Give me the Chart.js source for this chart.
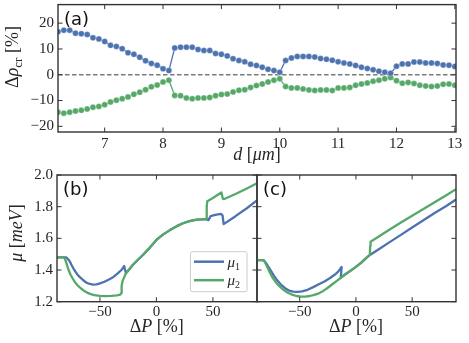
<!DOCTYPE html>
<html><head><meta charset="utf-8">
<script src="https://cdn.jsdelivr.net/npm/chart.js@4"></script>
<style>
html,body{margin:0;padding:0;background:#fff;}
#wrap{position:relative;width:469px;height:343px;overflow:hidden;background:#fff;}
canvas{position:absolute;}
</style></head><body>
<div id="wrap">
<canvas id="cA" width="469" height="170" style="left:0;top:0"></canvas>
<canvas id="cB" width="260" height="183" style="left:0;top:160px"></canvas>
<canvas id="cC" width="219" height="183" style="left:250px;top:160px"></canvas>
</div>
<script>
// ---------- DATA ----------
const dValues = [6.2,6.3,6.4,6.5,6.6,6.7,6.8,6.9,7.0,7.1,7.2,7.3,7.4,7.5,7.6,7.7,7.8,7.9,8.0,8.1,8.2,8.3,8.4,8.5,8.6,8.7,8.8,8.9,9.0,9.1,9.2,9.3,9.4,9.5,9.6,9.7,9.8,9.9,10.0,10.1,10.2,10.3,10.4,10.5,10.6,10.7,10.8,10.9,11.0,11.1,11.2,11.3,11.4,11.5,11.6,11.7,11.8,11.9,12.0,12.1,12.2,12.3,12.4,12.5,12.6,12.7,12.8,12.9,13.0];
const rhoBlue = [16.7,17.3,17.3,16.1,15.9,15.6,14.3,13.9,12.9,11.4,11.0,10.1,8.5,7.9,6.8,5.4,4.4,3.7,2.3,1.6,10.4,10.7,10.7,10.7,9.8,9.4,9.4,8.2,7.9,7.3,6.2,5.5,5.0,4.1,3.6,2.9,2.1,1.6,1.0,5.5,6.5,7.1,7.1,7.1,6.9,6.3,6.0,5.6,5.0,4.6,4.2,3.6,2.9,2.4,1.9,1.4,1.0,0.6,3.3,4.2,4.2,4.9,4.9,4.6,4.6,4.4,3.8,3.7,3.2];
const rhoGreen = [-14.5,-14.9,-14.5,-14.1,-13.8,-13.3,-12.6,-12.3,-11.6,-10.6,-9.9,-9.3,-8.6,-7.6,-6.8,-5.8,-4.7,-4.0,-2.8,-2.1,-8.0,-8.1,-9.0,-9.3,-9.0,-9.0,-8.8,-8.1,-7.7,-7.5,-6.7,-6.0,-5.8,-4.9,-4.2,-3.6,-2.8,-2.1,-1.6,-4.6,-5.1,-5.1,-5.5,-5.9,-6.1,-5.9,-5.9,-6.1,-5.1,-5.1,-4.9,-4.1,-3.6,-3.2,-2.5,-2.1,-1.6,-1.1,-2.3,-3.3,-3.0,-3.4,-4.1,-4.4,-4.6,-4.4,-3.7,-3.6,-4.1];
const dTicks = [7,8,9,10,11,12,13];
const rhoTicks = [-20,-10,0,10,20];

// panel (b)
const bX1 = [-88,-80,-79,-77,-75,-72.7,-70,-68,-65,-62,-59,-56,-53,-50,-46,-42,-38,-34,-31,-28.6,-27,-24,-21,-17,-12,-6,0,6,12,18,24,30,36,40,44,46,48,52,57,58.5,59.5,70,80,89];
const bY1 = [1.48,1.48,1.475,1.458,1.43,1.40,1.372,1.357,1.337,1.32,1.312,1.308,1.31,1.316,1.326,1.34,1.356,1.38,1.40,1.425,1.38,1.405,1.432,1.46,1.495,1.54,1.59,1.625,1.652,1.677,1.697,1.71,1.718,1.72,1.722,1.715,1.74,1.748,1.755,1.745,1.69,1.74,1.79,1.84];
const bX2 = [-88,-82,-81,-79.5,-78,-76,-74,-72,-70,-67,-64,-61,-58,-55,-50,-45,-40,-35,-32,-31,-30.8,-30,-28.5,-27,-24,-21,-17,-12,-6,0,6,12,18,24,30,36,40,44,44.5,45,50,55,57.5,58.8,60,70,80,89];
const bY2 = [1.48,1.48,1.47,1.44,1.405,1.37,1.345,1.322,1.305,1.285,1.268,1.256,1.248,1.242,1.237,1.235,1.237,1.24,1.245,1.255,1.30,1.33,1.355,1.38,1.405,1.432,1.46,1.495,1.54,1.59,1.625,1.652,1.677,1.697,1.71,1.718,1.72,1.722,1.80,1.835,1.855,1.878,1.89,1.85,1.848,1.88,1.915,1.948];

// panel (c)
const cX1 = [-88,-82,-80,-78,-76,-73,-70,-67,-63,-60,-56,-52,-48,-43,-38,-33,-28,-23,-19,-16,-12.7,-13.5,-10,-5,0,5,9,12.4,20,30,40,50,60,70,80,89];
const cY1 = [1.462,1.462,1.445,1.422,1.40,1.365,1.335,1.31,1.285,1.272,1.264,1.262,1.265,1.275,1.292,1.31,1.328,1.35,1.37,1.388,1.42,1.352,1.37,1.395,1.42,1.448,1.475,1.495,1.53,1.576,1.622,1.668,1.714,1.76,1.803,1.845];
const cX2 = [-88,-82.5,-81,-79,-77,-74,-71,-68,-65,-61,-57,-53,-49,-45,-41,-37,-33,-29,-25,-21,-17,-14,-10,-5,0,5,9,12.4,12.6,13,20,30,40,50,60,70,80,89];
const cY2 = [1.462,1.462,1.45,1.42,1.39,1.35,1.32,1.298,1.278,1.258,1.245,1.236,1.232,1.232,1.236,1.243,1.253,1.268,1.288,1.31,1.332,1.348,1.37,1.395,1.42,1.448,1.475,1.495,1.55,1.579,1.61,1.656,1.70,1.742,1.785,1.828,1.87,1.91];

const pTicks = [-50,0,50];
const muTicks = [1.2,1.4,1.6,1.8,2.0];

// ---------- STYLE ----------
const BLUE = '#4c72b0', GREEN = '#55a868';
const SERIF = '"Liberation Serif", serif';
const TICKFONT = {family: SERIF, size: 15};
const TXT = '#262626';

function minusFmt(v){ return v < 0 ? '\u2212' + Math.abs(v) : String(v); }
function setTicks(arr){ return s => { s.ticks = arr.map(v => ({value: v})); }; }
function fitW(w){ return s => { s.width = w; s.paddingTop = s.paddingBottom = s.paddingLeft = s.paddingRight = 0; }; }
function fitH(h){ return s => { s.height = h; s.paddingTop = s.paddingBottom = s.paddingLeft = s.paddingRight = 0; }; }

function rich(ctx, segs, cx, base, rot){
  let w = 0;
  segs.forEach(s => { ctx.font = s[1]; w += ctx.measureText(s[0]).width; });
  ctx.save();
  ctx.fillStyle = TXT;
  if (rot) { ctx.translate(base, cx); ctx.rotate(-Math.PI/2); }
  else { ctx.translate(cx, base); }
  ctx.textBaseline = 'alphabetic'; ctx.textAlign = 'left';
  let x = -w/2;
  segs.forEach(s => { ctx.font = s[1]; ctx.fillText(s[0], x, s[2] || 0); x += ctx.measureText(s[0]).width; });
  ctx.restore();
}

const frameTicks = {
  id: 'frameTicks',
  beforeDatasetsDraw(chart, args, opts){
    if (!opts.zero) return;
    const {ctx, chartArea: a} = chart;
    const y = chart.scales.y.getPixelForValue(0);
    ctx.save();
    ctx.strokeStyle = '#7a7a7a'; ctx.lineWidth = 1.5; ctx.setLineDash([4.5, 2.5]);
    ctx.beginPath(); ctx.moveTo(a.left, y); ctx.lineTo(a.right, y); ctx.stroke();
    ctx.restore();
  },
  afterDatasetsDraw(chart, args, opts){
    const {ctx, chartArea: a} = chart;
    const xs = chart.scales.x, ys = chart.scales.y;
    const L = 4.5;
    ctx.save();
    ctx.strokeStyle = '#333'; ctx.lineWidth = 1;
    ctx.beginPath();
    xs.ticks.forEach(t => { const p = xs.getPixelForValue(t.value);
      ctx.moveTo(p, a.bottom); ctx.lineTo(p, a.bottom - L);
      ctx.moveTo(p, a.top); ctx.lineTo(p, a.top + L); });
    ys.ticks.forEach(t => { const p = ys.getPixelForValue(t.value);
      ctx.moveTo(a.left, p); ctx.lineTo(a.left + L, p);
      ctx.moveTo(a.right, p); ctx.lineTo(a.right - L, p); });
    ctx.stroke();
    ctx.lineWidth = 1.4;
    ctx.strokeRect(a.left, a.top, a.right - a.left, a.bottom - a.top);
    // panel label
    ctx.fillStyle = '#111';
    ctx.font = '18px "DejaVu Sans", sans-serif';
    ctx.textBaseline = 'alphabetic';
    ctx.fillText(opts.label, a.left + 6, a.top + 20);
    // titles
    if (opts.draw) opts.draw(ctx, a);
    ctx.restore();
  }
};
Chart.register(frameTicks);

const F = (s, it) => (it ? 'italic ' : '') + s + 'px ' + SERIF;
const NOGRID = {display: false, drawTicks: false};

// ---------- PANEL A ----------
new Chart(document.getElementById('cA'), {
  type: 'line',
  data: {
    labels: dValues,
    datasets: [
      {data: dValues.map((d, i) => ({x: d, y: rhoBlue[i]})), borderColor: BLUE, backgroundColor: BLUE,
       pointBackgroundColor: BLUE, pointBorderColor: 'rgba(255,255,255,0.55)', pointBorderWidth: 0.6,
       pointRadius: 3, borderWidth: 1.3},
      {data: dValues.map((d, i) => ({x: d, y: rhoGreen[i]})), borderColor: GREEN, backgroundColor: GREEN,
       pointBackgroundColor: GREEN, pointBorderColor: 'rgba(255,255,255,0.55)', pointBorderWidth: 0.6,
       pointRadius: 3, borderWidth: 1.3}
    ]
  },
  options: {
    responsive: false, animation: false, events: [],
    layout: {padding: {top: 4, right: 13, left: 0, bottom: 0}},
    plugins: {legend: {display: false}, tooltip: {enabled: false},
      frameTicks: {label: '(a)', zero: true, draw(ctx, a){
        rich(ctx, [['d', F(18, true)], [' [', F(18)], ['\u03bcm', F(18, true)], [']', F(18)]], (a.left + a.right)/2, 160, false);
        rich(ctx, [['\u0394', F(18)], ['\u03c1', F(18, true)], ['cr', F(13), 4], [' [%]', F(18)]], 57, 18, true);
      }}},
    scales: {
      x: {type: 'linear', min: 6.2, max: 13.02, grid: NOGRID, border: {display: false},
          afterBuildTicks: setTicks(dTicks), afterFit: fitH(38),
          ticks: {font: TICKFONT, color: TXT, padding: 3, maxRotation: 0, callback: minusFmt}},
      y: {min: -22.2, max: 27.2, grid: NOGRID, border: {display: false},
          afterBuildTicks: setTicks(rhoTicks), afterFit: fitW(58),
          ticks: {font: TICKFONT, color: TXT, padding: 4, callback: minusFmt}}
    }
  }
});

// ---------- PANELS B, C ----------
function lineDs(xs, ys, color){
  return {data: xs.map((x, i) => ({x: x, y: ys[i]})), borderColor: color, backgroundColor: color,
          showLine: true, pointRadius: 0, borderWidth: 2.3, tension: 0, borderJoinStyle: 'round'};
}
function muScales(showY, yW, xH){
  return {
    x: {type: 'linear', min: -88, max: 89, grid: NOGRID, border: {display: false},
        afterBuildTicks: setTicks(pTicks), afterFit: fitH(xH),
        ticks: {font: TICKFONT, color: TXT, padding: 1, maxRotation: 0, callback: minusFmt}},
    y: {type: 'linear', min: 1.2, max: 2.0, grid: NOGRID, border: {display: false},
        afterBuildTicks: setTicks(muTicks), afterFit: fitW(yW),
        ticks: {display: showY, font: TICKFONT, color: TXT, padding: 4, callback: v => v.toFixed(1)}}
  };
}

new Chart(document.getElementById('cB'), {
  type: 'scatter',
  data: {datasets: [lineDs(bX2, bY2, GREEN), lineDs(bX1, bY1, BLUE)]},
  options: {
    responsive: false, animation: false, events: [],
    layout: {padding: {top: 15, right: 3, left: 0, bottom: 0}},
    plugins: {legend: {display: false}, tooltip: {enabled: false},
      frameTicks: {label: '(b)', draw(ctx, a){
        rich(ctx, [['\u0394', F(18)], ['P', F(18, true)], [' [%]', F(18)]], 156.7, 172, false);
        rich(ctx, [['\u03bc', F(18, true)], [' [', F(18)], ['meV', F(18, true)], [']', F(18)]], 73, 22, true);
        // legend
        const bx = a.right - 66.5, by = a.bottom - 50, bw = 56.5, bh = 40;
        ctx.fillStyle = 'rgba(255,255,255,0.85)'; ctx.strokeStyle = '#cccccc'; ctx.lineWidth = 1;
        ctx.beginPath(); ctx.roundRect ? ctx.roundRect(bx, by, bw, bh, 2) : ctx.rect(bx, by, bw, bh); ctx.fill(); ctx.stroke();
        [[BLUE, '1', 10], [GREEN, '2', 28.5]].forEach(e => {
          ctx.strokeStyle = e[0]; ctx.lineWidth = 2.5;
          ctx.beginPath(); ctx.moveTo(bx + 3.5, by + e[2]); ctx.lineTo(bx + 33.5, by + e[2]); ctx.stroke();
          ctx.fillStyle = TXT;
          ctx.font = F(15, true); ctx.fillText('\u03bc', bx + 37, by + e[2] + 5);
          const w = ctx.measureText('\u03bc').width;
          ctx.font = F(10); ctx.fillText(e[1], bx + 37 + w, by + e[2] + 8);
        });
      }}},
    scales: muScales(true, 57, 183 - 141.7)
  }
});

new Chart(document.getElementById('cC'), {
  type: 'scatter',
  data: {datasets: [lineDs(cX2, cY2, GREEN), lineDs(cX1, cY1, BLUE)]},
  options: {
    responsive: false, animation: false, events: [],
    layout: {padding: {top: 15, right: 13, left: 0, bottom: 0}},
    plugins: {legend: {display: false}, tooltip: {enabled: false},
      frameTicks: {label: '(c)', draw(ctx, a){
        rich(ctx, [['\u0394', F(18)], ['P', F(18, true)], [' [%]', F(18)]], 106, 172, false);
      }}},
    scales: muScales(false, 7, 183 - 141.7)
  }
});
</script>
</body></html>
